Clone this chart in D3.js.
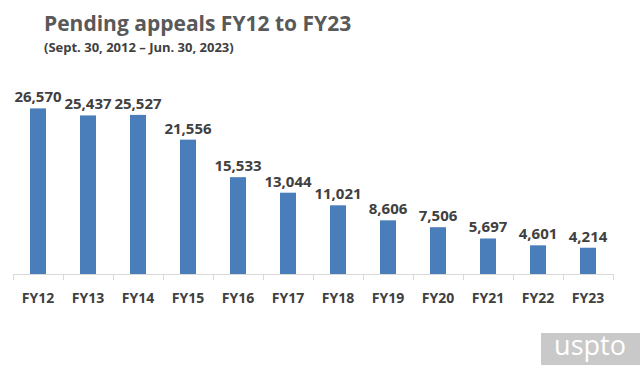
<!DOCTYPE html>
<html><head><meta charset="utf-8">
<script src="https://cdn.jsdelivr.net/npm/d3@7"></script>
<style>body{margin:0;background:#fff}svg{display:block}</style>
</head><body><svg id="c" width="640" height="365"></svg>
<script>
const categories = ["FY12","FY13","FY14","FY15","FY16","FY17","FY18","FY19","FY20","FY21","FY22","FY23"];
const pending = [26570,25437,25527,21556,15533,13044,11021,8606,7506,5697,4601,4214];
const titleText = "Pending appeals FY12 to FY23";
const subtitleText = "(Sept. 30, 2012 \u2013 Jun. 30, 2023)";

const svg = d3.select("#c");
const font = "'Open Sans', 'Noto Sans', sans-serif";
const x = d3.scaleBand().domain(categories).range([13, 613]).paddingInner(0.68).paddingOuter(0.34);
const y = d3.scaleLinear().domain([0, 30000]).range([274, 87]);

svg.append("text").attr("x", 44).attr("y", 31).attr("font-family", font).attr("font-weight", 700)
  .attr("font-size", 21).attr("fill", "#595959").text(titleText);
svg.append("text").attr("x", 44).attr("y", 52).attr("font-family", font).attr("font-weight", 700)
  .attr("font-size", 13).attr("fill", "#404040").text(subtitleText);

svg.selectAll("rect.bar").data(pending).join("rect").attr("class","bar")
  .attr("x", (d,i) => x(categories[i])).attr("width", x.bandwidth())
  .attr("y", d => y(d)).attr("height", d => y(0) - y(d)).attr("fill", "#4a7ebb");

svg.selectAll("text.val").data(pending).join("text").attr("class","val")
  .attr("x", (d,i) => x(categories[i]) + x.bandwidth()/2).attr("y", d => y(d) - 6)
  .attr("text-anchor","middle").attr("font-family", font).attr("font-weight", 700)
  .attr("font-size", 15).attr("fill", "#404040").text(d => d3.format(",")(d));

// axis
const xb = d3.scaleLinear().domain([0, categories.length]).range([13, 613]);
const ax = svg.append("g");
ax.append("line").attr("x1", 13).attr("x2", 613).attr("y1", 274.5).attr("y2", 274.5).attr("stroke", "#d9d9d9");
ax.selectAll("line.t").data(d3.range(categories.length + 1)).join("line").attr("class","t")
  .attr("x1", d => Math.round(xb(d)) + 0.5).attr("x2", d => Math.round(xb(d)) + 0.5)
  .attr("y1", 274).attr("y2", 280).attr("stroke", "#d9d9d9");
svg.selectAll("text.cat").data(categories).join("text").attr("class","cat")
  .attr("x", d => x(d) + x.bandwidth()/2).attr("y", 303).attr("text-anchor","middle")
  .attr("font-family", font).attr("font-weight", 700).attr("font-size", 14).attr("fill", "#404040").text(d => d);

// logo
svg.append("rect").attr("x", 541).attr("y", 333).attr("width", 99).attr("height", 32).attr("fill", "#c9c9c9");
svg.append("text").attr("x", 590).attr("y", 355).attr("text-anchor","middle").attr("font-family", font)
  .attr("font-size", 27).attr("fill", "#ffffff").text("uspto");
</script></body></html>
